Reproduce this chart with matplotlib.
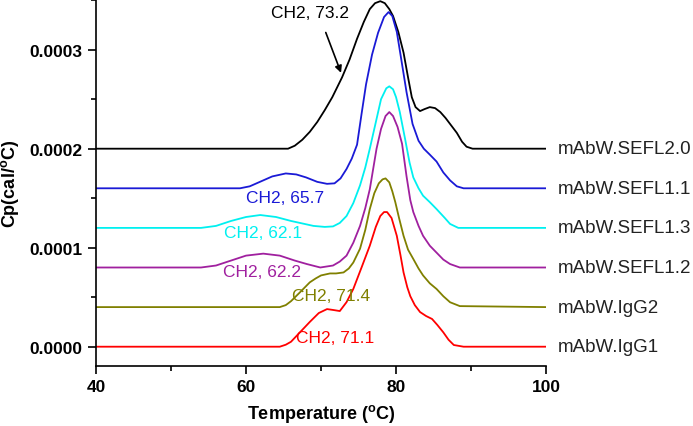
import numpy as np
import matplotlib
matplotlib.use('Agg')
import matplotlib.pyplot as plt
from matplotlib.ticker import MultipleLocator, FormatStrFormatter

plt.rcParams['font.family'] = ['Liberation Sans', 'DejaVu Sans']

# DSC traces, Cp in units of 1e-4 cal/degC (curves already offset in the figure)
t_sefl20 = [40, 60, 65.6, 66.5, 67.5, 68.5, 69.5, 70.5, 71.5, 72.8, 73.8, 74.8, 75.7, 76.5, 77.2,
            77.9, 78.5, 79.1, 79.6, 80.3, 81.0, 81.6, 82.1, 82.6, 83.2, 83.8, 84.5, 85.2, 85.9,
            86.6, 87.3, 88.1, 88.8, 89.4, 90.2, 100]
cp_sefl20 = [2.0, 2.0, 2.0, 2.03, 2.09, 2.17, 2.27, 2.39, 2.52, 2.72, 2.90, 3.11, 3.28, 3.41, 3.47,
             3.49, 3.47, 3.41, 3.34, 3.18, 2.97, 2.72, 2.52, 2.42, 2.38, 2.40, 2.42, 2.41, 2.37,
             2.31, 2.24, 2.16, 2.07, 2.02, 2.0, 2.0]

t_sefl11 = [40, 59.2, 60.5, 62, 63.5, 65.3, 66.7, 68, 69.5, 70.8, 71.8, 72.6, 73.4, 74.1, 74.8,
            75.4, 76.0, 76.8, 77.6, 78.4, 79.0, 79.5, 80.1, 80.7, 81.4, 82.2, 83.0, 83.7, 84.5,
            85.4, 86.3, 87.2, 88.1, 89, 100]
cp_sefl11 = [1.6, 1.6, 1.62, 1.67, 1.72, 1.75, 1.74, 1.71, 1.665, 1.645, 1.65, 1.70, 1.795, 1.90, 2.04,
             2.35, 2.65, 2.95, 3.17, 3.33, 3.38, 3.34, 3.18, 2.90, 2.57, 2.25, 2.08, 2.00, 1.94,
             1.87, 1.76, 1.68, 1.62, 1.60, 1.6]

t_sefl13 = [40, 54, 56, 58, 60, 61.9, 64, 66, 67.2, 69, 70.5, 71.6, 72.5, 73.4, 74.3, 75.2, 75.9,
            76.5, 77.4, 78.0, 78.7, 79.1, 79.6, 80.0, 80.5, 81.2, 81.8, 82.3, 83.0, 83.6, 84.5,
            85.4, 86.5, 87.2, 88.3, 100]
cp_sefl13 = [1.2, 1.2, 1.22, 1.27, 1.31, 1.33, 1.31, 1.27, 1.25, 1.22, 1.21, 1.215, 1.25, 1.32, 1.45,
             1.63, 1.81, 2.0, 2.30, 2.50, 2.61, 2.63, 2.60, 2.52, 2.37, 2.10, 1.86, 1.71, 1.60,
             1.525, 1.46, 1.39, 1.30, 1.24, 1.20, 1.2]

t_sefl12 = [40, 54, 56, 58, 60, 62.3, 64.5, 66.5, 68.1, 69.9, 71.6, 72.5, 73.4, 74.3, 75.2, 75.9,
            76.5, 77.4, 78.0, 78.6, 79.1, 79.6, 80.2, 80.8, 81.4, 81.9, 82.3, 83.0, 83.6, 84.5,
            85.4, 86.3, 87.2, 88.5, 100]
cp_sefl12 = [0.8, 0.8, 0.82, 0.87, 0.92, 0.94, 0.92, 0.87, 0.835, 0.80, 0.82, 0.86, 0.92, 1.05, 1.22,
             1.40, 1.59, 2.0, 2.20, 2.33, 2.37, 2.33, 2.22, 2.05, 1.72, 1.48, 1.36, 1.22, 1.12, 1.02,
             0.95, 0.88, 0.835, 0.80, 0.8]

t_igg2 = [40, 64.5, 65.3, 66, 67.2, 68.5, 69.3, 70, 71.2, 72, 73, 73.7, 74.3, 75.2, 75.9, 76.5,
          77.1, 77.7, 78.2, 78.6, 79.1, 79.5, 79.9, 80.4, 81.0, 81.6, 82.3, 83.0, 83.6, 84.5,
          85.4, 86.3, 87.2, 88.5, 100]
cp_igg2 = [0.4, 0.4, 0.42, 0.46, 0.55, 0.65, 0.69, 0.72, 0.74, 0.74, 0.75, 0.79, 0.85, 0.99, 1.18,
           1.39, 1.55, 1.65, 1.69, 1.70, 1.66, 1.57, 1.46, 1.30, 1.12, 0.98, 0.886, 0.79, 0.72, 0.64,
           0.583, 0.51, 0.449, 0.41, 0.4]

t_igg1 = [40, 64.5, 65.3, 66, 67, 68.5, 69.7, 70.8, 71.7, 72.5, 73.4, 74.3, 75.4, 76.5, 77.3, 77.9,
          78.4, 78.8, 79.4, 80.1, 80.6, 81.0, 81.5, 81.9, 82.5, 83.2, 84.0, 84.8, 85.5, 86.3,
          87.0, 87.7, 89, 100]
cp_igg1 = [0, 0, 0.02, 0.05, 0.13, 0.25, 0.34, 0.38, 0.37, 0.36, 0.45, 0.583, 0.80, 1.02, 1.21, 1.32,
           1.36, 1.36, 1.30, 1.12, 0.92, 0.75, 0.60, 0.51, 0.42, 0.35, 0.31, 0.28, 0.22, 0.145,
           0.07, 0.017, 0, 0]

names = ['mAbW.SEFL2.0', 'mAbW.SEFL1.1', 'mAbW.SEFL1.3', 'mAbW.SEFL1.2', 'mAbW.IgG2', 'mAbW.IgG1']
baselines = [2.0, 1.6, 1.2, 0.8, 0.4, 0.0]
colors = ['black', '#1a1ad6', '#00f0f0', '#a0209f', '#808000', '#ff0000']
temps = [t_sefl20, t_sefl11, t_sefl13, t_sefl12, t_igg2, t_igg1]
cps = [cp_sefl20, cp_sefl11, cp_sefl13, cp_sefl12, cp_igg2, cp_igg1]

# CH2 annotations: text, x, y (1e-4 units)
ch2_text = ['CH2, 73.2', 'CH2, 65.7', 'CH2, 62.1', 'CH2, 62.2', 'CH2, 71.4', 'CH2, 71.1']
ch2_x = [68.5, 65.2, 62.3, 62.1, 71.4, 71.9]
ch2_y = [3.38, 1.51, 1.155, 0.76, 0.515, 0.095]

fig = plt.figure(figsize=(6.93, 4.27), dpi=100)
ax = fig.add_axes([0.1385, 0.1412, 0.6495, 0.8588])

for t, cp, c in zip(temps, cps, colors):
    ax.plot(t, np.array(cp) * 1e-4, color=c, lw=1.3, solid_joinstyle='round')

for name, b in zip(names, baselines):
    ax.text(101.5, b * 1e-4, name, color='#222222', fontsize=13.5, va='center', ha='left',
            clip_on=False)

for s, x, y, c in zip(ch2_text, ch2_x, ch2_y, colors):
    ax.text(x, y * 1e-4, s, color=c, fontsize=12.5, ha='center', va='center')

ax.annotate('', xy=(72.8, 2.74e-4), xytext=(70.5, 3.2e-4),
            arrowprops=dict(arrowstyle='-|>', color='black', lw=1.2, mutation_scale=10))

ax.set_xlim(40, 100)
ax.set_ylim(-0.192e-4, 3.512e-4)
ax.xaxis.set_major_locator(MultipleLocator(20))
ax.xaxis.set_minor_locator(MultipleLocator(10))
ax.yaxis.set_major_locator(MultipleLocator(1e-4))
ax.yaxis.set_minor_locator(MultipleLocator(0.5e-4))
ax.yaxis.set_major_formatter(FormatStrFormatter('%.4f'))

ax.spines['top'].set_visible(False)
ax.spines['right'].set_visible(False)
for sp in ['left', 'bottom']:
    ax.spines[sp].set_linewidth(1.2)
ax.tick_params(which='both', direction='out', width=1.2)
ax.tick_params(which='major', length=6, labelsize=12.5)
ax.tick_params(which='minor', length=3.5)
for lab in ax.get_xticklabels() + ax.get_yticklabels():
    lab.set_fontweight('bold')

ax.set_xlabel('Temperature ($^{\\mathregular{o}}$C)', fontsize=13, fontweight='bold', labelpad=6)
ax.set_ylabel('Cp(cal/$^{\\mathregular{o}}$C)', fontsize=13, fontweight='bold', labelpad=6)

fig.savefig('out.png', dpi=100)
